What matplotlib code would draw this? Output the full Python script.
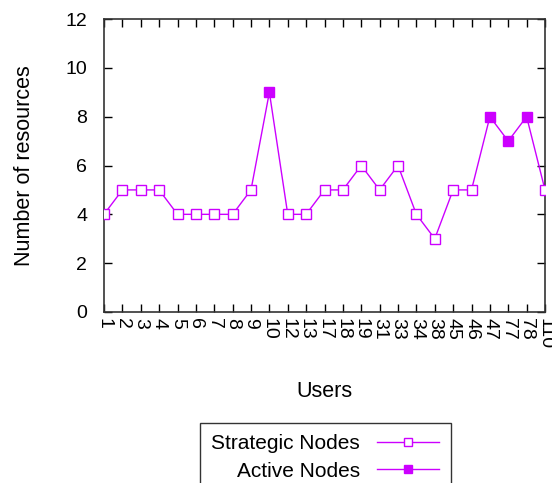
import numpy as np
import matplotlib
matplotlib.use("Agg")
import matplotlib.pyplot as plt
from matplotlib.lines import Line2D

plt.rcParams['font.family'] = ['Liberation Sans', 'DejaVu Sans']

# users on the x axis and the number of resources for each
users = ['1', '2', '3', '4', '5', '6', '7', '8', '9', '10', '12', '13', '17',
         '18', '19', '31', '33', '34', '38', '45', '46', '47', '77', '78', '110']
resources = [4, 5, 5, 5, 4, 4, 4, 4, 5, 9, 4, 4, 5, 5, 6, 5, 6, 4, 3, 5, 5, 8, 7, 8, 5]
# users that are active nodes (the rest are strategic)
active_users = ['10', '47', '77', '78']

COLOR = '#cc00ff'

x = np.arange(len(users))
y = np.array(resources)
is_active = np.array([u in active_users for u in users])

fig = plt.figure(figsize=(5.52, 4.83), dpi=100)
ax = fig.add_axes([104/552, 1 - 312/483, (545 - 104)/552, (312 - 19)/483])

ax.plot(x, y, color=COLOR, lw=1, zorder=2)
ax.plot(x[~is_active], y[~is_active], ls='none', marker='s', ms=7,
        mfc='white', mec=COLOR, mew=1, zorder=3)
ax.plot(x[is_active], y[is_active], ls='none', marker='s', ms=7,
        mfc=COLOR, mec=COLOR, mew=1, zorder=3)

ax.set_xlim(0, len(users) - 1)
ax.set_ylim(0, 12)
ax.set_xticks(x)
ax.set_xticklabels(users, rotation=270, fontsize=14)
ax.set_yticks(np.arange(0, 13, 2))
ax.tick_params(axis='y', labelsize=14, pad=12)
ax.tick_params(axis='x', pad=4)
ax.tick_params(direction='in', top=True, right=True, length=6, width=1)
for s in ax.spines.values():
    s.set_linewidth(1.2)
    s.set_color('#333333')

ax.set_xlabel('Users', fontsize=15.5, labelpad=23)
ax.set_ylabel('Number of resources', fontsize=15.5, labelpad=22)

handles = [
    Line2D([], [], color=COLOR, lw=1, marker='s', ms=6, mfc='white', mec=COLOR),
    Line2D([], [], color=COLOR, lw=1, marker='s', ms=6, mfc=COLOR, mec=COLOR),
]
leg = fig.legend(handles, ['Strategic Nodes', 'Active Nodes'],
                 loc='upper left', bbox_to_anchor=(200/552, 1 - 423/483),
                 markerfirst=False, fancybox=False, fontsize=15,
                 handlelength=3.0, handletextpad=0.8, borderaxespad=0,
                 borderpad=0.55, labelspacing=0.4)
leg.get_frame().set_edgecolor('black')
leg.get_frame().set_linewidth(1)
for t in leg.get_texts():
    t.set_ha('right')

fig.savefig('out.png', dpi=100)
